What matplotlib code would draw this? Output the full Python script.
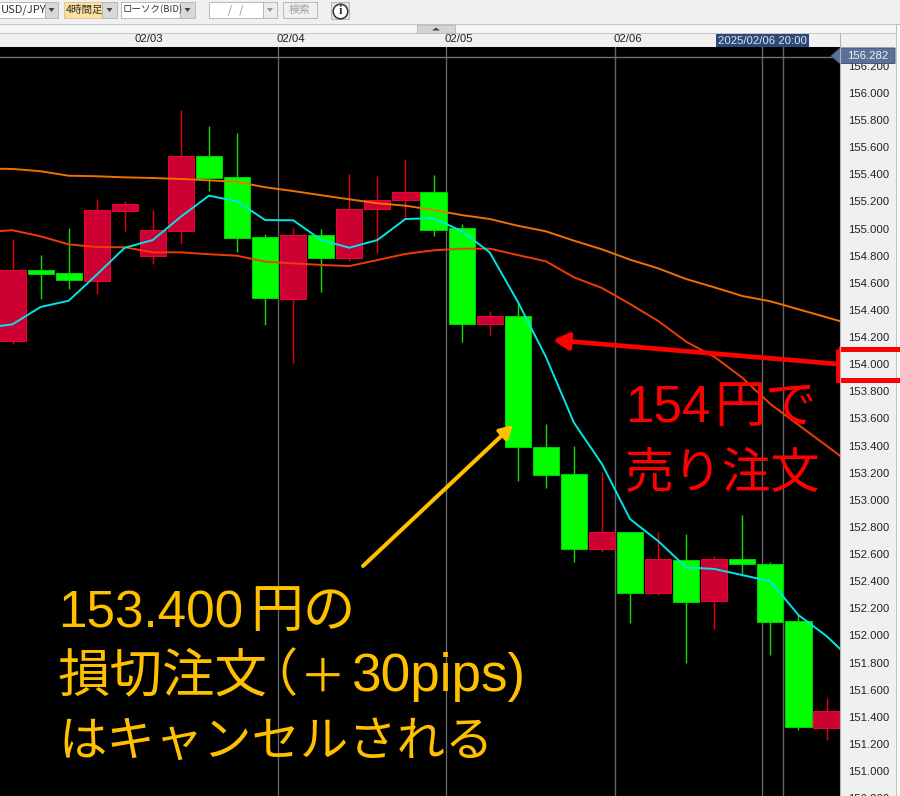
import matplotlib
matplotlib.use('Agg')
import matplotlib.pyplot as plt
from matplotlib.patches import Rectangle, Polygon, FancyArrowPatch
import numpy as np

plt.rcParams['font.family'] = ['Liberation Sans', 'Noto Sans CJK JP', 'DejaVu Sans']

# USD/JPY 4 hour candles
opens  = [154.169,154.692,154.673,154.616,155.132,154.800,154.985,155.535,155.381,154.938,
          154.483,154.951,154.785,155.143,155.211,155.270,155.004,154.294,154.355,153.389,
          153.188,152.637,152.762,152.310,152.554,152.256,152.561,152.524,152.106,151.319]
highs  = [154.923,154.805,155.004,155.218,155.204,155.137,155.875,155.757,155.707,154.958,
          155.004,154.997,155.403,155.388,155.513,155.393,155.032,154.392,154.454,153.557,
          153.397,153.205,152.762,152.762,152.746,152.585,152.888,152.541,152.156,151.536]
lows   = [154.149,154.481,154.555,154.520,154.985,154.739,154.889,155.277,154.827,154.289,
          154.009,154.535,154.763,154.818,155.073,154.945,154.166,154.215,153.139,153.087,
          152.543,152.617,152.094,152.300,151.794,152.047,152.440,151.855,151.302,151.228]
closes = [154.692,154.667,154.619,155.135,155.181,154.988,155.535,155.373,154.933,154.490,
          154.951,154.785,155.145,155.213,155.270,154.990,154.294,154.353,153.387,153.183,
          152.635,152.762,152.310,152.561,152.248,152.561,152.524,152.101,151.322,151.442]

# moving averages, index -1 to 30 (the ends run off the panel)
ma_idx = list(range(-1, 31))
ma_short = [154.267,154.294,154.422,154.468,154.660,154.859,154.916,155.088,155.243,155.201,
            155.063,155.061,154.916,154.859,154.916,155.071,155.076,154.982,154.825,154.461,
            154.055,153.569,153.264,152.858,152.696,152.502,152.490,152.445,152.399,152.150,
            151.995,151.799]
ma_mid = [154.975,154.988,154.943,154.884,154.864,154.862,154.825,154.825,154.811,154.800,
          154.756,154.744,154.732,154.724,154.768,154.813,154.840,154.852,154.852,154.805,
          154.759,154.641,154.562,154.444,154.319,154.166,154.055,153.900,153.706,153.552,
          153.399,153.244]
ma_long = [155.443,155.440,155.423,155.390,155.386,155.378,155.373,155.366,155.356,155.344,
           155.305,155.277,155.246,155.216,155.187,155.169,155.137,155.100,155.071,155.021,
           154.980,154.911,154.847,154.771,154.707,154.628,154.567,154.503,154.464,154.405,
           154.346,154.287]

day_pos = [4.36, 9.39, 15.40, 21.41, 27.40]
day_labels = ['02/03', '02/04', '02/05', '02/06', '02/07']
grid_pos = [9.46, 15.46, 21.46, 27.46]
cursor_pos = 26.69
cursor_price = 156.282
price_ticks = [151.0 + 0.2*i for i in range(-1, 27)]

W, H = 900, 796
fig = plt.figure(figsize=(W/100, H/100), dpi=100, facecolor='#f0f0f0')

# chart panel
bottom_px = 810
ax = fig.add_axes([0, 1 - bottom_px/H, 840/W, (bottom_px - 47)/H], facecolor='black')
ax.set_xlim((0 - 12.5)/28.07, (840 - 12.5)/28.07)
ax.set_ylim(156 - (bottom_px - 93)/135.6, 156 + (93 - 47)/135.6)
for s in ax.spines.values():
    s.set_visible(False)

ax.vlines(grid_pos + [cursor_pos], 150, 157, color='#666666', lw=1.0, zorder=1)
ax.axhline(cursor_price - 0.02, color='#707070', lw=1.0, zorder=1)

for i in range(len(opens)):
    up = closes[i] > opens[i]
    wick = '#e00010' if up else '#20d000'
    body = '#cc0033' if up else '#00ff00'
    edge = '#f00030' if up else '#00d000'
    ax.vlines(i, lows[i], highs[i], color=wick, lw=1.05, zorder=2)
    ax.bar(i, abs(closes[i] - opens[i]), bottom=min(opens[i], closes[i]), width=0.93,
           color=body, edgecolor=edge, linewidth=0.75, zorder=3)

ax.plot(ma_idx, ma_long, color='#f07000', lw=1.4, zorder=4)
ax.plot(ma_idx, ma_mid, color='#f03c00', lw=1.4, zorder=4)
ax.plot(ma_idx, ma_short, color='#00e6e6', lw=1.4, zorder=5)

ax.yaxis.tick_right()
ax.set_yticks(price_ticks)
ax.set_yticklabels(['%.3f' % p for p in price_ticks], fontsize=8.2, color='#222222')
ax.tick_params(axis='y', length=0, pad=5.5)
ax.xaxis.tick_top()
ax.set_xticks(day_pos)
ax.set_xticklabels(day_labels, fontsize=8.2, color='#222222', ha='left')
ax.tick_params(axis='x', length=0, pad=2.5)

# toolbar, price marker and callouts, in picture pixels
ov = fig.add_axes([0, 0, 1, 1], facecolor='none', zorder=10)
ov.set_xlim(0, W)
ov.set_ylim(H, 0)
ov.axis('off')

def box(x0, y0, x1, y1, fc, ec='#b8b8b8', lw=0.7):
    ov.add_patch(Rectangle((x0, y0), x1 - x0, y1 - y0, facecolor=fc, edgecolor=ec, linewidth=lw))

def dropdown(x0, x1):
    box(x0, 2, x1, 18, '#d8d8d8')
    cx = (x0 + x1)/2
    ov.add_patch(Polygon([(cx - 3, 8), (cx + 3, 8), (cx, 12)], facecolor='#444444', edgecolor='none'))

jp = ['Noto Sans CJK JP', 'DejaVu Sans']

# band above the dates
box(-2, 24, 902, 33, '#f6f6f6', ec='#c4c4c4')
box(417, 25, 455, 33, '#d4d4d4', ec='#bcbcbc')
ov.add_patch(Polygon([(432, 30.5), (440, 30.5), (436, 27.5)], facecolor='#444444', edgecolor='none'))

box(-2, 2, 45, 18, 'white')
ov.text(1, 10, 'USD/JPY', fontsize=8, color='#333333', va='center', family=jp)
dropdown(45, 58)
box(64, 2, 102, 18, '#ffdf9e', ec='#d8c8a0')
ov.text(66, 10, '4時間足', fontsize=7.6, color='#333333', va='center', family=jp)
dropdown(102, 117)
box(121, 2, 180, 18, 'white')
ov.text(123, 10, 'ローソク(BID)', fontsize=6.8, color='#333333', va='center', family=jp)
dropdown(180, 195)
box(209, 2, 263, 18, 'white')
ov.text(236, 10, '/   /', fontsize=7.5, color='#888888', va='center', ha='center', family=jp)
box(263, 2, 277, 18, '#ececec')
ov.add_patch(Polygon([(267, 8), (273, 8), (270, 12)], facecolor='#999999', edgecolor='none'))
box(283, 2, 317, 18, '#f0f0f0')
ov.text(300, 10, '検索', fontsize=7.8, color='#a0a0a0', va='center', ha='center', family=jp)
box(331, 2, 349, 19, '#e4e4e4')
ov.plot([340], [10.5], 'o', ms=10.5, mfc='white', mec='#333333', mew=1.1)
ov.text(340, 10.5, 'i', fontsize=9, fontweight='bold', color='#333333', va='center', ha='center',
        family='Liberation Serif')

# right edge of the price scale
ov.plot([840, 840], [33, H], color='#b4b4b4', lw=0.8)
ov.add_patch(Rectangle((896, 24), 6, H, facecolor='#fbfbfb', edgecolor='#c0c0c0', linewidth=0.7))

# cursor date and price
box(716, 34, 809, 47, '#2c4a78', ec='#2c4a78', lw=0)
ov.text(762.5, 40.5, '2025/02/06 20:00', fontsize=8.2, color='#dfe6f0', va='center', ha='center')
ov.add_patch(Polygon([(831, 56), (840, 48), (895, 48), (895, 63.5), (840, 63.5)],
                     facecolor='#5a7298', edgecolor='#3d5680', linewidth=0.7))
ov.text(867.5, 56, '156.282', fontsize=8.2, color='#f0f0f0', va='center', ha='center')

# red callout
RED = '#ff0000'
ov.add_patch(Rectangle((837.5, 348.5), 80, 31, facecolor='none', edgecolor=RED, linewidth=3.6))
ov.add_patch(FancyArrowPatch((838, 364), (553, 340), arrowstyle='-|>,head_length=0.75,head_width=0.42',
                             mutation_scale=12, color=RED, lw=3.4, shrinkA=0, shrinkB=0))
ov.text(625, 421.5, '154', fontsize=36.9, color=RED, va='baseline')
ov.text(714, 421.5, '円で', fontsize=36.9, color=RED, va='baseline')
ov.text(625, 487.5, '売り注文', fontsize=35.2, color=RED, va='baseline')

# orange callout
GOLD = '#ffc000'
ov.add_patch(FancyArrowPatch((363, 566), (513, 425), arrowstyle='-|>,head_length=0.75,head_width=0.42',
                             mutation_scale=10, color=GOLD, lw=2.9, shrinkA=0, shrinkB=0))
ov.text(58, 627, '153.400', fontsize=36.9, color=GOLD, va='baseline')
ov.text(250, 627, '円の', fontsize=38, color=GOLD, va='baseline')
ov.text(58, 691.5, '損切注文', fontsize=37.8, color=GOLD, va='baseline')
ov.text(246, 691.5, '（', fontsize=36.9, color=GOLD, va='baseline')
ov.text(300, 691.5, '＋', fontsize=33, color=GOLD, va='baseline')
ov.text(352, 691.5, '30pips)', fontsize=38.2, color=GOLD, va='baseline')
ov.text(58, 755.5, 'はキャンセルされる', fontsize=34.8, color=GOLD, va='baseline')

fig.savefig('out.png', dpi=100, facecolor=fig.get_facecolor())
